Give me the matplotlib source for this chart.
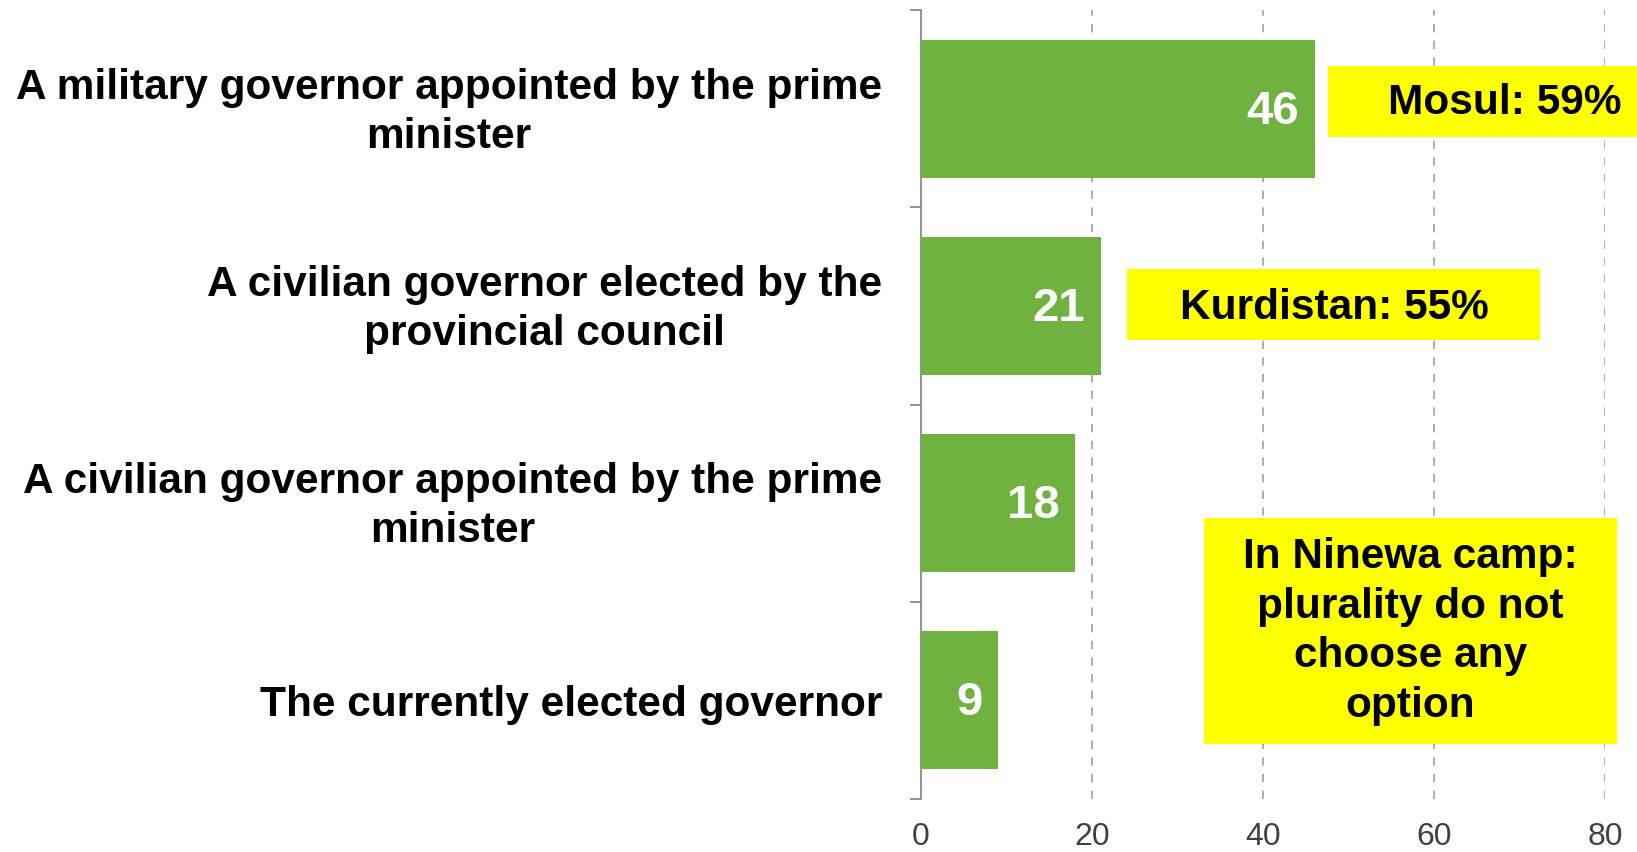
import matplotlib
matplotlib.use("Agg")
import matplotlib.pyplot as plt
import matplotlib.transforms as mtransforms
from matplotlib.patches import Rectangle

categories = [
    "A military governor appointed by the prime\nminister",
    "A civilian governor elected by the\nprovincial council",
    "A civilian governor appointed by the prime\nminister",
    "The currently elected governor",
]
values = [46, 21, 18, 9]
xticks = [0, 20, 40, 60, 80]
notes = ["Mosul: 59%", "Kurdistan: 55%", "In Ninewa camp:\nplurality do not\nchoose any\noption"]

GREEN = "#6FB240"
YELLOW = "#FFFF00"
plt.rcParams["font.family"] = ["Liberation Sans", "DejaVu Sans"]

fig = plt.figure(figsize=(16.37, 8.52), dpi=100)
ax = fig.add_axes([0.5626, 0.0625, 0.4181, 0.9253])

ypos = list(range(len(categories)))
bars = ax.barh(ypos, values, height=0.7, color=GREEN, zorder=3)
ax.set_ylim(len(categories) - 0.5, -0.5)
ax.set_xlim(0, 80)

for y, v in zip(ypos, values):
    ax.annotate(str(v), xy=(v, y), xytext=(-11, -2), textcoords="offset points",
                ha="right", va="center", color="white", fontsize=34,
                fontweight="bold", zorder=4)

ax.set_yticks(ypos)
ax.set_yticklabels(categories, fontsize=30.5, fontweight="bold",
                   multialignment="center", linespacing=1.29)
ax.tick_params(axis="y", which="major", length=0, pad=28)
ax.set_yticks([i - 0.5 for i in range(len(categories) + 1)], minor=True)
ax.tick_params(axis="y", which="minor", length=8, width=1.2, color="#808080")

shift = mtransforms.ScaledTranslation(0, 4 / 72, fig.dpi_scale_trans)
for lab in ax.get_yticklabels():
    if "\n" in lab.get_text():
        lab.set_transform(lab.get_transform() + shift)

ax.set_xticks(xticks)
ax.set_xticklabels([str(t) for t in xticks], fontsize=23, color="#404040")
ax.tick_params(axis="x", length=0, pad=17)

for t in xticks[1:]:
    ax.axvline(t, color="#A0A0A0", linestyle=(0, (5, 5)), linewidth=1.2, zorder=1)

for s in ["top", "right", "bottom"]:
    ax.spines[s].set_visible(False)
ax.spines["left"].set_color("#808080")
ax.spines["left"].set_linewidth(1.2)

# Yellow call-out boxes
boxes = [
    (0.8112, 0.8395, 0.1888, 0.0833, 0.919, 0.8787),
    (0.6882, 0.6005, 0.2525, 0.0833, 0.815, 0.6390),
    (0.7353, 0.1262, 0.2526, 0.2660, 0.8616, 0.2586),
]
for (x0, y0, w, h, tx, ty), note in zip(boxes, notes):
    fig.patches.append(Rectangle((x0, y0), w, h, transform=fig.transFigure,
                                 facecolor=YELLOW, edgecolor="none", zorder=5))
    fig.text(tx, ty, note, ha="center", va="center", fontsize=30.5,
             fontweight="bold", color="black", linespacing=1.31, zorder=6)

fig.savefig("out.png", dpi=100)
